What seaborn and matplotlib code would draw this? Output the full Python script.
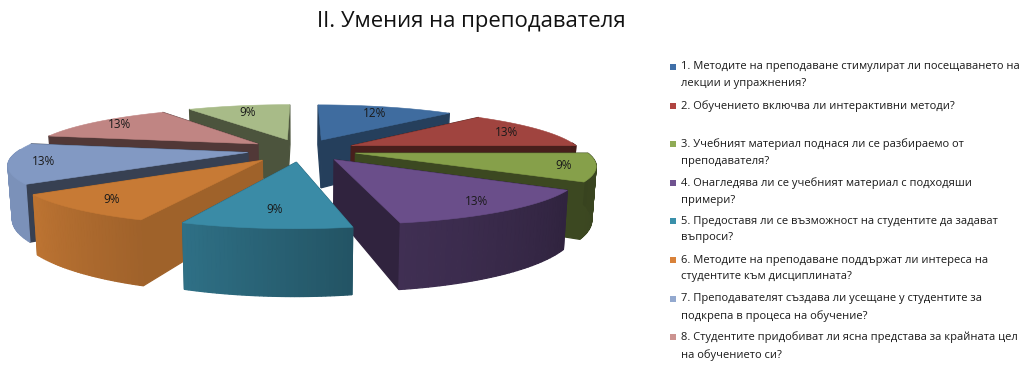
import numpy as np
import matplotlib
matplotlib.use('Agg')
import matplotlib.pyplot as plt
import seaborn as sns

title = 'II. Умения на преподавателя'
values = [12, 13, 9, 13, 9, 9, 13, 13, 9]
questions = [
    '1. Методите на преподаване стимулират ли посещаването на\nлекции и упражнения?',
    '2. Обучението включва ли интерактивни методи?',
    '3. Учебният материал поднася ли се разбираемо от\nпреподавателя?',
    '4. Онагледява ли се учебният материал с подходяши\nпримери?',
    '5. Предоставя ли се възможност на студентите да задават\nвъпроси?',
    '6. Методите на преподаване поддържат ли интереса на\nстудентите към дисциплината?',
    '7. Преподавателят създава ли усещане у студентите за\nподкрепа в процеса на обучение?',
    '8. Студентите придобиват ли ясна представа за крайната цел\nна обучението си?',
]
colors = ['#3f6c9f', '#a0443f', '#86a04a', '#6a4e8a', '#3a8ba6',
          '#c77a35', '#8299c3', '#c08583', '#a8bb88']
legend_colors = ['#3f6fa8', '#b04440', '#8fab55', '#6f528f', '#3a90aa',
                 '#d9823a', '#93a9cf', '#cc9390']

# how far each slice is pulled out, how dark its cut faces are, where its label sits
explode = [0.24, 0.24, 0.24, 0.24, 0.25, 0.27, 0.24, 0.24, 0.24]
side_shade = [0.58, 0.45, 0.45, 0.45, 0.7, 0.8, 0.42, 0.42, 0.45]
label_dist = [0.79, 0.82, 0.87, 0.855, 0.76, 0.835, 0.86, 0.846, 0.79]

sns.set_theme(style='white')
plt.rcParams['font.family'] = ['Open Sans', 'DejaVu Sans']

# perspective of the tilted pie, in pixels of the figure
CX, CY = 302, 150
RX, RY = 229, 46.4
PERSP = 0.211
DEPTH = 50
BOTTOM_SHRINK = 0.985


def project(x, y, down=False):
    s = 1 / (1 + PERSP * np.asarray(y))
    px = CX + RX * np.asarray(x) * s
    py = CY - RY * np.asarray(y) * s
    if down:
        px = CX + (px - CX) * BOTTOM_SHRINK
        py = py + DEPTH * s
    return px, py


def shade(color, f):
    return tuple(np.array(matplotlib.colors.to_rgb(color)) * f)


def wall(ax, x, y, color):
    tx, ty = project(x, y)
    bx, by = project(x, y, down=True)
    ax.fill(np.r_[tx, bx[::-1]], np.r_[ty, by[::-1]], color=color, lw=0.9)


fig, ax = plt.subplots(figsize=(10.24, 3.81), dpi=100)
fig.subplots_adjust(0, 0, 1, 1)

# the pie gives the slice angles and the exploded centres
wedges, _ = ax.pie(values, explode=explode, startangle=90,
                   counterclock=False, colors=colors)
slices = [(w.center, w.theta1, w.theta2) for w in wedges]
for w in wedges:
    w.remove()

ax.set_aspect('auto')
ax.set_xlim(0, 1024)
ax.set_ylim(381, 0)
ax.axis('off')

# back slices first
order = sorted(range(len(values)),
               key=lambda i: -np.sin(np.radians((slices[i][1] + slices[i][2]) / 2)))

for i in order:
    (cx, cy), t1, t2 = slices[i]
    col = colors[i]
    ang = np.radians(np.linspace(t1, t2, 40))
    ox, oy = cx + np.cos(ang), cy + np.sin(ang)

    edges = [(ox[0], oy[0]), (ox[-1], oy[-1])]
    edges.sort(key=lambda e: -e[1])
    for ex, ey in edges:
        wall(ax, np.array([cx, ex]), np.array([cy, ey]), shade(col, side_shade[i]))

    for j in range(len(ang) - 1):
        if np.sin(ang[j]) > 0.05 and np.sin(ang[j + 1]) > 0.05:
            continue
        clock = (90 - np.degrees(ang[j])) % 360
        f = np.interp(clock, [90, 122, 169, 201, 234, 280], [0.42, 0.45, 0.6, 0.8, 0.95, 0.95])
        wall(ax, ox[j:j + 2], oy[j:j + 2], shade(col, f))

    tx, ty = project(np.r_[cx, ox], np.r_[cy, oy])
    ax.fill(tx, ty, color=col, lw=0.4)

    mid = np.radians((t1 + t2) / 2)
    lx, ly = project(cx + label_dist[i] * np.cos(mid), cy + label_dist[i] * np.sin(mid))
    ax.text(lx, ly, f'{values[i]}%', ha='center', va='center', fontsize=8.5, color='#1a1a1a')

ax.text(471, 21, title, ha='center', va='center', fontsize=15.9, color='#111111')

for i, q in enumerate(questions):
    y = 67 + 38.6 * i
    ax.scatter([673], [y], marker='s', s=20, color=legend_colors[i], linewidths=0)
    ax.text(681, y - 5.5, q, ha='left', va='top', fontsize=8.0, color='#1a1a1a', linespacing=1.68)

fig.savefig('out.png', dpi=100)
